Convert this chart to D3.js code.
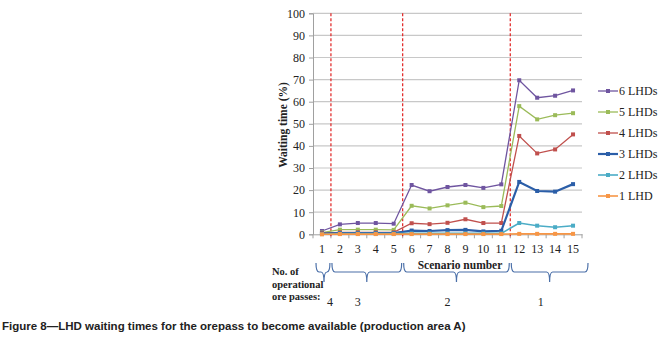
<!DOCTYPE html>
<html><head><meta charset="utf-8">
<script src="https://cdn.jsdelivr.net/npm/d3@7"></script>
<style>
body{margin:0;background:#fff;}
svg{display:block;}
</style></head>
<body>
<svg id="chart" width="662" height="342"></svg>
<script>
const scenarios = [1,2,3,4,5,6,7,8,9,10,11,12,13,14,15];
const yTicks = [0,10,20,30,40,50,60,70,80,90,100];
const seriesNames = ["6 LHDs","5 LHDs","4 LHDs","3 LHDs","2 LHDs","1 LHD"];
const lhd6 = [1.5,4.5,5.1,5.1,4.8,22.3,19.5,21.4,22.3,21.0,22.6,69.7,61.8,62.7,65.1];
const lhd5 = [0.8,2.1,2.1,2.1,2.0,12.9,11.7,13.1,14.3,12.3,12.8,58.0,52.0,53.9,54.8];
const lhd4 = [0.5,0.9,0.9,0.9,0.9,5.0,4.6,5.2,6.8,5.1,5.1,44.5,36.6,38.4,45.2];
const lhd3 = [0.3,0.5,0.5,0.5,0.5,1.7,1.5,1.9,2.0,1.3,1.6,23.7,19.6,19.3,22.7];
const lhd2 = [0.1,0.3,0.3,0.3,0.3,0.4,0.4,0.4,0.4,0.4,0.4,5.1,3.9,3.2,3.9];
const lhd1 = [0.0,0.1,0.1,0.1,0.1,0.1,0.1,0.1,0.1,0.1,0.1,0.2,0.2,0.2,0.2];
const seriesValues = [lhd6,lhd5,lhd4,lhd3,lhd2,lhd1];
const dividers = [[1,2],[5,6],[11,12]];
const groups = [
  {from:1,to:1,label:"4"},
  {from:2,to:5,label:"3"},
  {from:6,to:11,label:"2"},
  {from:12,to:15,label:"1"}
];

const colors = ["#6f55a0","#9bbb59","#c0504d","#2b5ea8","#4bacc6","#f79646"];
const widths = [1.3,1.3,1.3,2.2,1.6,1.6];
const serif = "'Liberation Serif', 'DejaVu Serif', serif";

const svg = d3.select("#chart");
const x = d3.scaleBand().domain(scenarios).range([313,582]);
const y = d3.scaleLinear().domain([0,100]).range([234.3,13.3]);
const cx = d => x(d) + x.bandwidth()/2;

// gridlines
svg.append("g").selectAll("line").data(yTicks.filter(t=>t>0)).join("line")
  .attr("x1",313).attr("x2",582)
  .attr("y1",d=>y(d)).attr("y2",d=>y(d))
  .attr("stroke","#c8c8c8").attr("stroke-width",1.2);

// y axis
const yAxis = svg.append("g").attr("transform","translate(313,0)")
  .call(d3.axisLeft(y).tickValues(yTicks).tickSize(4).tickPadding(4));
yAxis.select(".domain").attr("stroke","#a0a0a0");
yAxis.selectAll(".tick line").attr("stroke","#a0a0a0");
yAxis.selectAll("text").attr("font-family",serif).attr("font-size",12).attr("fill","#222");

// x axis
const xAxis = svg.append("g").attr("transform",`translate(0,${y(0)})`)
  .call(d3.axisBottom(x).tickSize(0).tickPadding(10));
xAxis.select(".domain").attr("stroke","#a0a0a0");
xAxis.selectAll("text").attr("font-family",serif).attr("font-size",12).attr("fill","#222");
// tick marks between categories
svg.append("g").selectAll("line").data(scenarios.concat([16])).join("line")
  .attr("x1",d=>d<=15?x(d):582).attr("x2",d=>d<=15?x(d):582)
  .attr("y1",y(0)).attr("y2",y(0)+4)
  .attr("stroke","#a0a0a0");

// dividers
svg.append("g").selectAll("line").data(dividers).join("line")
  .attr("x1",d=>x(d[1])).attr("x2",d=>x(d[1]))
  .attr("y1",y(100)).attr("y2",y(0)+4)
  .attr("stroke","#e02020").attr("stroke-width",1.2).attr("stroke-dasharray","3,2");

// series
const line = d3.line().x((d,i)=>cx(scenarios[i])).y(d=>y(d));
seriesValues.forEach((vals,k)=>{
  const g = svg.append("g");
  g.append("path").datum(vals).attr("d",line)
    .attr("fill","none").attr("stroke",colors[k]).attr("stroke-width",widths[k]);
  g.selectAll("rect").data(vals).join("rect")
    .attr("x",(d,i)=>cx(scenarios[i])-2).attr("y",d=>y(d)-2)
    .attr("width",4).attr("height",4).attr("fill",colors[k]);
});

// y title
svg.append("text").attr("transform","translate(287,125) rotate(-90)")
  .attr("text-anchor","middle").attr("font-family",serif).attr("font-weight","bold")
  .attr("font-size",11.5).attr("fill","#222").text("Waiting time (%)");

// legend
seriesNames.forEach((n,k)=>{
  const ly = 91 + k*21;
  svg.append("line").attr("x1",598).attr("x2",618).attr("y1",ly).attr("y2",ly)
    .attr("stroke",colors[k]).attr("stroke-width",widths[k]);
  svg.append("rect").attr("x",606).attr("y",ly-2).attr("width",4).attr("height",4).attr("fill",colors[k]);
  svg.append("text").attr("x",619).attr("y",ly+4).attr("font-family",serif)
    .attr("font-size",12).attr("fill","#222").text(n);
});

// Scenario number
svg.append("text").attr("x",460).attr("y",269).attr("text-anchor","middle")
  .attr("font-family",serif).attr("font-weight","bold").attr("font-size",11.5)
  .attr("fill","#222").text("Scenario number");

// braces
function brace(x0,x1,xm){
  const t=263, m=272, b=282, r=3;
  return `M${x0},${t} Q${x0},${m} ${x0+r},${m} L${xm-r},${m} Q${xm},${m} ${xm},${b} Q${xm},${m} ${xm+r},${m} L${x1-r},${m} Q${x1},${m} ${x1},${t}`;
}
const bx0 = d => d.from===1 ? x(1)+3 : x(d.from)+1;
const bx1 = d => d.to===15 ? 588 : x(d.to)+x.bandwidth()-1;
svg.append("g").selectAll("path").data(groups).join("path")
  .attr("d",d=>brace(bx0(d),bx1(d), d.from===1 ? 324 : (bx0(d)+bx1(d))/2))
  .attr("fill","none").attr("stroke","#4a6fa8").attr("stroke-width",1.2);

svg.append("g").selectAll("text").data(groups).join("text")
  .attr("x",d=> d.from===1 ? 330 : (bx0(d)+bx1(d))/2 - 9)
  .attr("y",306).attr("text-anchor","middle").attr("font-family",serif)
  .attr("font-size",12).attr("fill","#222").text(d=>d.label);

// No. of operational ore passes
const lab = ["No. of","operational","ore passes:"];
lab.forEach((t,i)=>{
  svg.append("text").attr("x",272).attr("y",275+i*12.5).attr("font-family",serif)
    .attr("font-weight","bold").attr("font-size",10.5).attr("fill","#222").text(t);
});

// caption
svg.append("text").attr("x",2).attr("y",330).attr("font-family","'Liberation Sans', Arial, sans-serif")
  .attr("font-weight","bold").attr("font-size",11.5).attr("fill","#222")
  .text("Figure 8\u2014LHD waiting times for the orepass to become available (production area A)");
</script>
</body></html>
